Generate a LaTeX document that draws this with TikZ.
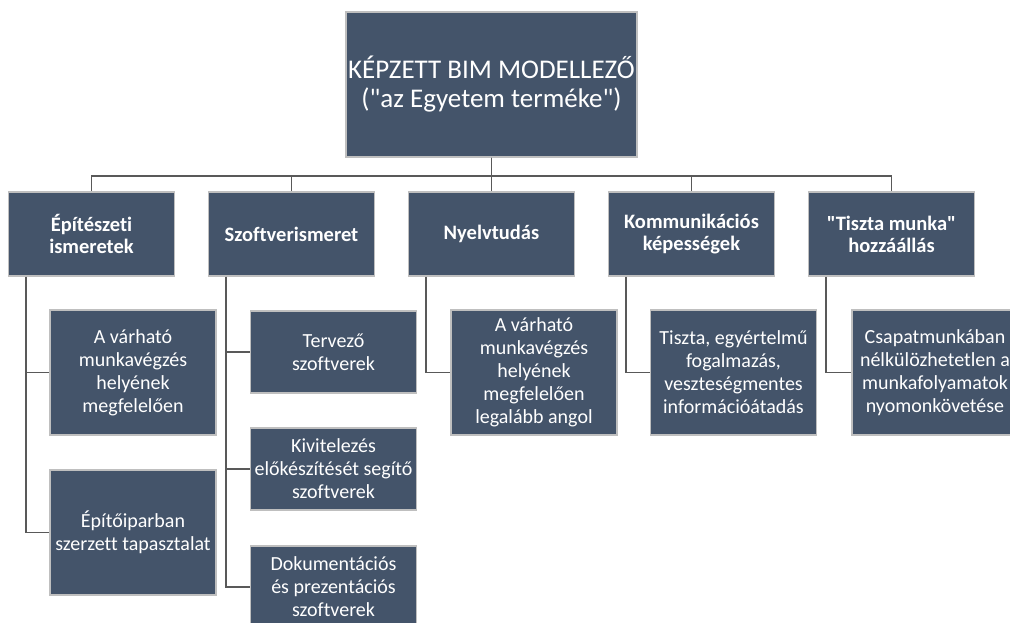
\documentclass[tikz,border=0pt]{standalone}
\usepackage{fontspec}
\setmainfont{Carlito}[Ligatures={TeXOff,NoCommon}]
\usepackage{xcolor}
\usetikzlibrary{positioning,calc}

\definecolor{boxblue}{HTML}{44546A}
\definecolor{boxgray}{HTML}{BFBFBF}
\definecolor{linegray}{HTML}{595959}

\begin{document}
\begin{tikzpicture}[x=1pt, y=-1pt,
    orgbox/.style={draw=boxgray, line width=1.5pt, fill=boxblue, text=white, align=center, inner sep=0pt},
    topbox/.style={orgbox, minimum width=291pt, minimum height=145pt, font=\fontsize{27}{29}\selectfont},
    catbox/.style={orgbox, minimum width=166pt, minimum height=84pt, font=\fontsize{20.5}{22}\selectfont\bfseries},
    itembox/.style={orgbox, minimum width=166pt, minimum height=125pt, font=\fontsize{20}{23}\selectfont},
    shortbox/.style={itembox, minimum height=82pt},
    conn/.style={draw=linegray, line width=1.6pt}]

    % Page size
    \useasboundingbox (0,0) rectangle (1010,623);
    \clip (0,0) rectangle (1010,623);

    % Top node
    \node[topbox] (bim) at (491.5,84.5) {KÉPZETT BIM MODELLEZŐ\\("az Egyetem terméke")};

    % Categories
    \node[catbox] (epit) at (91.5,234) {Építészeti\\ismeretek};
    \node[catbox] (szoft) at (291.5,234) {Szoftverismeret};
    \node[catbox] (nyelv) at (491.5,234) {Nyelvtudás};
    \node[catbox] (komm) at (691.5,234) {Kommunikációs\\képességek};
    \node[catbox] (tiszta) at (891.5,234) {"Tiszta munka"\\hozzáállás};

    % Items below the categories
    \node[itembox] (epit1) at (133,372.5) {A várható\\munkavégzés\\helyének\\megfelelően};
    \node[itembox] (epit2) at (133,532.5) {Építőiparban\\szerzett tapasztalat};
    \node[shortbox] (szoft1) at (333.5,352) {Tervező\\szoftverek};
    \node[shortbox] (szoft2) at (333.5,469) {Kivitelezés\\előkészítését segítő\\szoftverek};
    \node[shortbox] (szoft3) at (333.5,587) {Dokumentációs\\és prezentációs\\szoftverek};
    \node[itembox] (nyelv1) at (534,372.5) {A várható\\munkavégzés\\helyének\\megfelelően\\legalább angol};
    \node[itembox] (komm1) at (733.5,372.5) {Tiszta, egyértelmű\\fogalmazás,\\veszteségmentes\\információátadás};
    \node[itembox] (tiszta1) at (935,372.5) {Csapatmunkában\\nélkülözhetetlen a\\munkafolyamatok\\nyomonkövetése};

    % Connectors from the top node
    \foreach \c in {epit,szoft,nyelv,komm,tiszta}
        \draw[conn] (bim.south) -- ++(0,18) -| (\c.north);

    % Connectors to the items
    \foreach \c/\i in {epit/epit1,epit/epit2,szoft/szoft1,szoft/szoft2,szoft/szoft3,
                       nyelv/nyelv1,komm/komm1,tiszta/tiszta1}
        \draw[conn] ([xshift=18pt]\c.south west) |- (\i.west);
\end{tikzpicture}
\end{document}
